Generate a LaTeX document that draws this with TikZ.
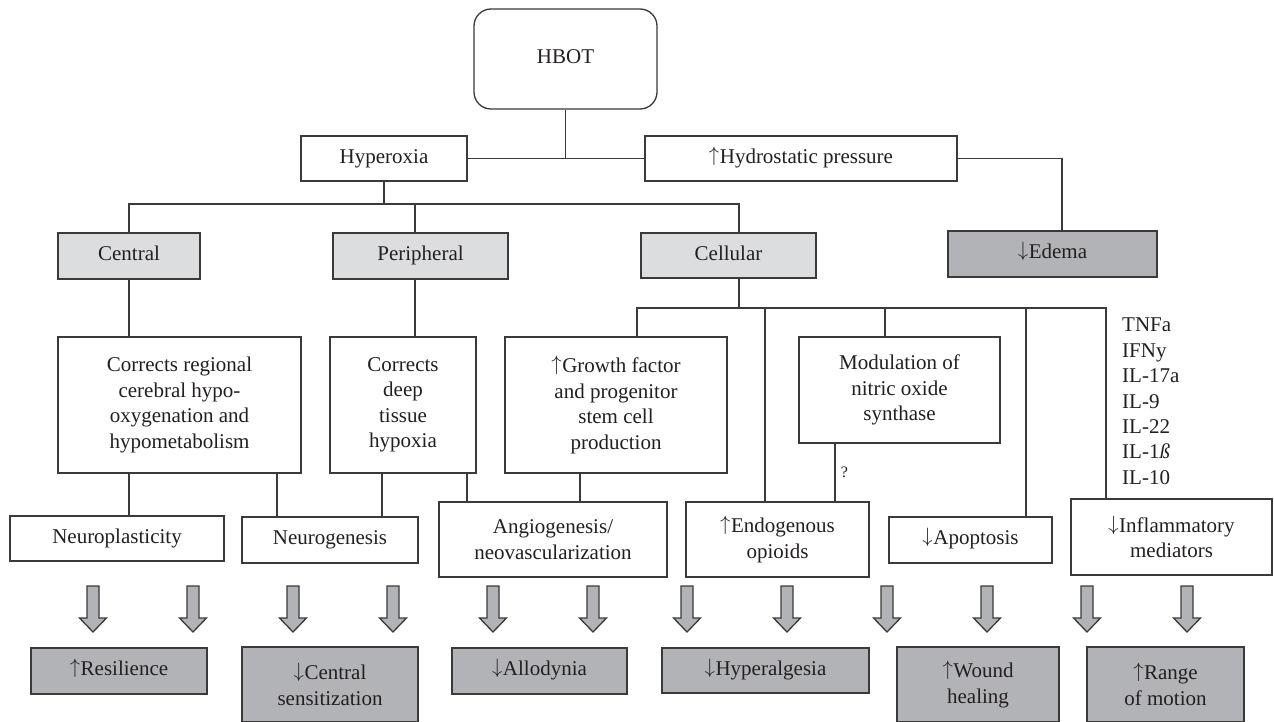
\documentclass[tikz,border=0pt]{standalone}
\usepackage{graphicx}
\usepackage{fontspec}
\setmainfont{Liberation Serif}
\definecolor{linec}{HTML}{3A3A3A}
\definecolor{txtc}{HTML}{231F20}
\definecolor{lightg}{HTML}{DCDDDF}
\definecolor{darkg}{HTML}{B2B3B6}
\newcommand\myup{\raisebox{2pt}{$\uparrow$}\kern0.5pt}
\newcommand\mydn{\raisebox{2pt}{$\downarrow$}\kern0.5pt}
\newcommand\bx[7]{\node[#1,minimum width={#4-#3},minimum height={#6-#5}] (#2) at ({(#3+#4)/2},{(#5+#6)/2}) {#7};}
\tikzset{
  box/.style={draw=linec,line width=1.3pt,fill=white,inner sep=1pt,align=center,text=txtc,
    font=\fontsize{21}{25.5}\selectfont},
  one/.style={text height=14pt,text depth=4.5pt},
  light/.style={box,fill=lightg},
  dark/.style={box,fill=darkg},
  conn/.style={draw=linec,line width=1.3pt},
  bigarrow/.style={draw=linec,line width=1.3pt,fill=darkg,line join=miter},
}
\begin{document}
\begin{tikzpicture}[x=1pt,y=-1pt]
\useasboundingbox (0,0) rectangle (1274,722);
% top
\bx{box,one,rounded corners=17pt}{hbot}{474}{657}{9}{109}{HBOT}
\bx{box,one}{hyp}{301}{467}{136}{181}{Hyperoxia}
\bx{box,one}{hyd}{645}{957}{136}{181}{\myup Hydrostatic pressure}
% level 2
\bx{light,one}{cen}{58}{200}{233}{279}{Central}
\bx{light,one}{per}{333}{508}{233}{279}{Peripheral}
\bx{light,one}{cel}{641}{816}{233}{278}{Cellular}
\bx{dark,one}{ede}{948}{1157}{231}{277}{\mydn Edema}
% level 3
\bx{box}{creg}{58}{301}{337}{473}{Corrects regional\\cerebral hypo-\\oxygenation and\\hypometabolism}
\bx{box}{cdeep}{330}{476}{337}{473}{Corrects\\deep\\tissue\\hypoxia}
\bx{box}{grow}{505}{727}{337}{473}{\myup Growth factor\\and progenitor\\stem cell\\production}
\bx{box}{nos}{799}{1000}{337}{443}{Modulation of\\nitric oxide\\synthase}
\node[anchor=north west,inner sep=0pt,align=left,text=txtc,font=\fontsize{21}{25.4}\selectfont] (cyto) at (1122,318)
  {TNFa\\IFNy\\IL-17a\\IL-9\\IL-22\\IL-1\textit{ß}\\IL-10};
% level 4
\bx{box,one}{nplast}{10}{224}{516}{561}{Neuroplasticity}
\bx{box,one}{ngen}{242}{418}{517}{563}{Neurogenesis}
\bx{box}{angio}{439}{667}{502}{577}{Angiogenesis/\\neovascularization}
\bx{box}{endo}{686}{869}{502}{577}{\myup Endogenous\\opioids}
\bx{box,one}{apop}{889}{1052}{517}{563}{\mydn Apoptosis}
\bx{box}{infl}{1071}{1272}{499}{575}{\mydn Inflammatory\\mediators}
% outcomes
\bx{dark,one}{resil}{31}{207}{648}{694}{\myup Resilience}
\bx{dark}{csens}{242}{418}{647}{722}{\mydn Central\\sensitization}
\bx{dark,one}{allo}{452}{627}{648}{694}{\mydn Allodynia}
\bx{dark,one}{hyper}{662}{869}{648}{693}{\mydn Hyperalgesia}
\bx{dark}{wound}{897}{1059}{647}{722}{\myup Wound\\healing}
\bx{dark}{range}{1087}{1244}{647}{722}{\myup Range\\of motion}
% helper coordinates (x positions of connectors)
\coordinate (b1) at (129,204);
\coordinate (b2) at (739,204);
\coordinate (p1) at (415,204);
\coordinate (c0) at (739,308);
\coordinate (cL) at (637,308);
\coordinate (cR) at (1106,308);
\coordinate (xe) at (765,308);
\coordinate (xn) at (885,308);
\coordinate (xa) at (1026,308);
\coordinate (xed) at (1062,158);
\coordinate (x1) at (129,0);
\coordinate (x2) at (277,0);
\coordinate (x3) at (382,0);
\coordinate (x4) at (467,0);
\coordinate (x5) at (580,0);
\coordinate (x6) at (835,0);
% connectors
\draw[conn] (hbot.south) -- (hbot.south |- hyp.east);
\draw[conn] (hyp.east) -- (hyd.west);
\draw[conn] (hyd.east) -| (xed |- ede.north);
\draw[conn] (hyp.south) -- (hyp.south |- b1);
\draw[conn] (cen.north) |- (b2) -- (b2 |- cel.north);
\draw[conn] (p1) -- (p1 |- per.north);
\draw[conn] (cen.south) -- (cen.south |- creg.north);
\draw[conn] (per.south -| p1) -- (p1 |- cdeep.north);
\draw[conn] (cel.south -| c0) -- (c0);
\draw[conn] (cL |- grow.north) |- (cR) -- (cR |- infl.north);
\draw[conn] (xe) -- (xe |- endo.north);
\draw[conn] (xn) -- (xn |- nos.north);
\draw[conn] (xa) -- (xa |- apop.north);
\draw[conn] (creg.south -| x1) -- (nplast.north -| x1);
\draw[conn] (creg.south -| x2) -- (ngen.north -| x2);
\draw[conn] (cdeep.south -| x3) -- (ngen.north -| x3);
\draw[conn] (cdeep.south -| x4) -- (angio.north -| x4);
\draw[conn] (grow.south -| x5) -- (angio.north -| x5);
\draw[conn] (nos.south -| x6) -- node[pos=0.5,anchor=west,xshift=2pt,text=txtc,font=\fontsize{16}{18}\selectfont] (q) {?} (endo.north -| x6);
% block arrows
\foreach \ax in {93,193,293,393,493,593,687,787,887,987,1087,1187}{
  \draw[bigarrow] (\ax-6,586) -- (\ax+6,586) -- (\ax+6,618) -- (\ax+13.5,618)
    -- (\ax,632) -- (\ax-13.5,618) -- (\ax-6,618) -- cycle;
}
\end{tikzpicture}
\end{document}
